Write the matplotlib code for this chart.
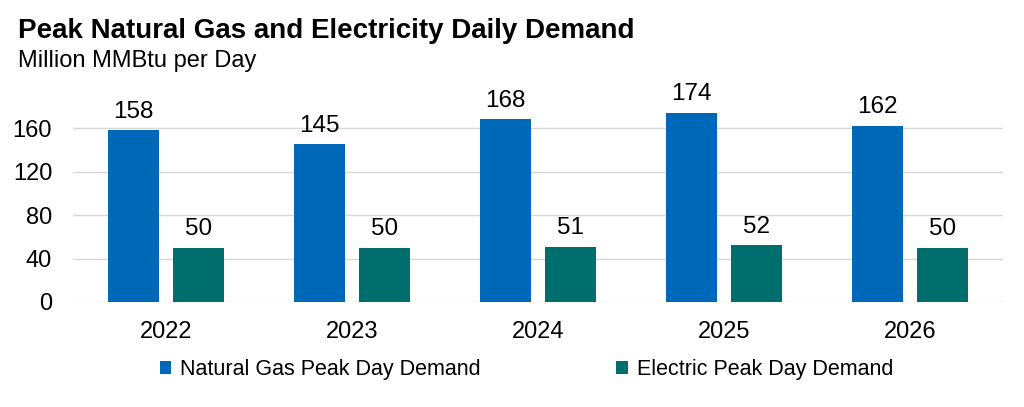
import numpy as np
import matplotlib.pyplot as plt

plt.rcParams['font.family'] = ['Liberation Sans', 'DejaVu Sans']

# data
years = ["2022", "2023", "2024", "2025", "2026"]
gas_peak = [158, 145, 168, 174, 162]
elec_peak = [50, 50, 51, 52, 50]

BLUE = "#0068B8"
TEAL = "#006E6C"

fig = plt.figure(figsize=(10.24, 4.07), dpi=100)
ax = fig.add_axes([0.0713, 0.258, 0.9082, 0.534])

x = np.arange(len(years))
w = 0.27
b1 = ax.bar(x - 0.175, gas_peak, w, color=BLUE, label="Natural Gas Peak Day Demand")
b2 = ax.bar(x + 0.175, elec_peak, w, color=TEAL, label="Electric Peak Day Demand")

for bars in (b1, b2):
    for r in bars:
        ax.text(r.get_x() + r.get_width() / 2, r.get_height() + 7, f"{r.get_height():.0f}",
                ha="center", va="bottom", fontsize=17.5)

ax.set_xlim(-0.5, len(years) - 0.5)
ax.set_ylim(0, 200)
ax.set_yticks([0, 40, 80, 120, 160])
ax.set_xticks(x)
ax.set_xticklabels(years)
ax.tick_params(axis="both", length=0, labelsize=17)
ax.tick_params(axis="y", pad=15)
ax.tick_params(axis="x", pad=14)
ax.yaxis.grid(True, color="#D9D9D9", linewidth=1)
ax.set_axisbelow(True)
for s in ax.spines.values():
    s.set_visible(False)

fig.text(0.018, 0.907, "Peak Natural Gas and Electricity Daily Demand",
         fontsize=20, fontweight="bold", ha="left", va="baseline")
fig.text(0.018, 0.835, "Million MMBtu per Day", fontsize=17, ha="left", va="baseline")

fig.legend(handles=[b1, b2], loc="center", bbox_to_anchor=(0.514, 0.092), ncol=2,
           frameon=False, fontsize=15.5, handlelength=0.55, handleheight=0.55,
           handletextpad=0.4, columnspacing=6.3)

fig.savefig("out.png", dpi=100)
